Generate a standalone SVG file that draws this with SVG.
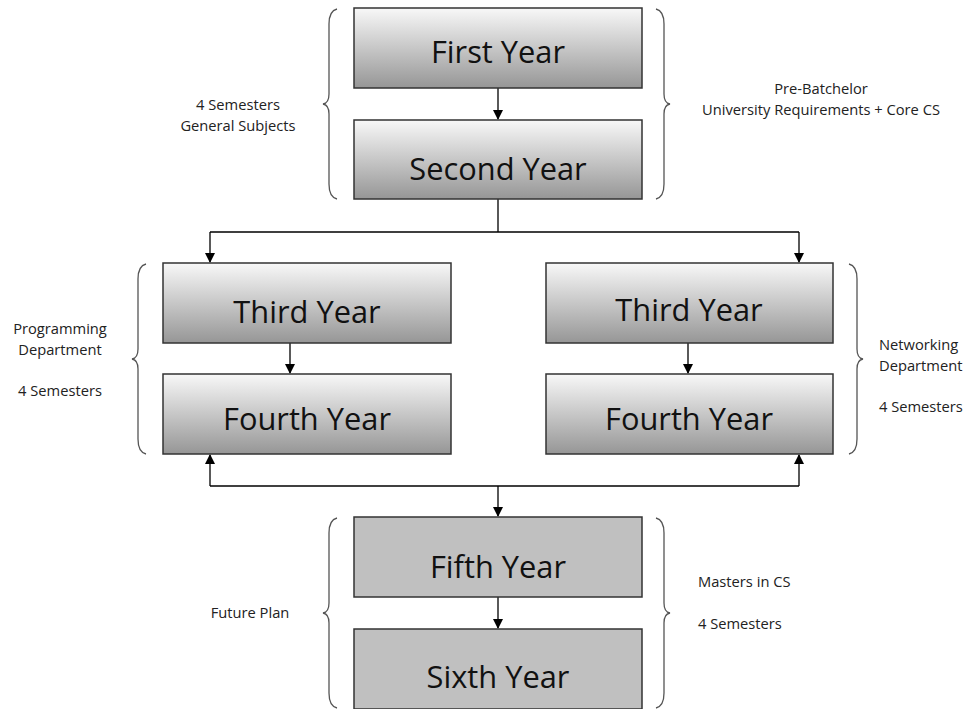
<svg xmlns="http://www.w3.org/2000/svg" width="966" height="709" viewBox="0 0 966 709">
<defs>
<linearGradient id="g" x1="0" y1="0" x2="0" y2="1">
<stop offset="0" stop-color="#f8f8f8"/>
<stop offset="1" stop-color="#969696"/>
</linearGradient>
<marker id="ah" markerWidth="10" markerHeight="10" refX="9" refY="5" orient="auto" markerUnits="userSpaceOnUse">
<path d="M0,0 L10,5 L0,10 Z" fill="#000"/>
</marker>
</defs>
<style>
.box{fill:url(#g);stroke:#333;stroke-width:1.5}
.flat{fill:#c0c0c0;stroke:#333;stroke-width:1.5}
.big{font-family:"Open Sans","Noto Sans","Liberation Sans",sans-serif;font-size:30.8px;fill:#111;text-anchor:middle}
.sm{font-family:"Open Sans","Noto Sans","Liberation Sans",sans-serif;font-size:14.7px;fill:#222}
.c{text-anchor:middle}
.br{fill:none;stroke:#555;stroke-width:1.3}
.ln{fill:none;stroke:#000;stroke-width:1.3}
</style>
<rect width="966" height="709" fill="#fff"/>
<g id="connectors">
<path class="ln" d="M498,88 V119" marker-end="url(#ah)"/>
<path class="ln" d="M498,199 V232 M210,232 H799"/>
<path class="ln" d="M210,232 V262" marker-end="url(#ah)"/>
<path class="ln" d="M799,232 V262" marker-end="url(#ah)"/>
<path class="ln" d="M290,343 V373" marker-end="url(#ah)"/>
<path class="ln" d="M688,343 V373" marker-end="url(#ah)"/>
<path class="ln" d="M210,486 H799"/>
<path class="ln" d="M210,486 V455" marker-end="url(#ah)"/>
<path class="ln" d="M799,486 V455" marker-end="url(#ah)"/>
<path class="ln" d="M498,486 V516" marker-end="url(#ah)"/>
<path class="ln" d="M498,597 V628" marker-end="url(#ah)"/>
</g>
<g id="braces">
<path class="br" d="M337,9 Q329,11 329,24 V94 Q329,103 323,104 Q329,105 329,114 V184 Q329,197 337,199"/>
<path class="br" d="M656,9 Q664,11 664,24 V94 Q664,103 670,104 Q664,105 664,114 V184 Q664,197 656,199"/>
<path class="br" d="M146,264 Q138,266 138,279 V349 Q138,358 132,359 Q138,360 138,369 V439 Q138,452 146,454"/>
<path class="br" d="M849,264 Q857,266 857,279 V349 Q857,358 863,359 Q857,360 857,369 V439 Q857,452 849,454"/>
<path class="br" d="M337,518 Q329,520 329,533 V603 Q329,612 323,613 Q329,614 329,623 V693 Q329,706 337,708"/>
<path class="br" d="M656,518 Q664,520 664,533 V603 Q664,612 670,613 Q664,614 664,623 V693 Q664,706 656,708"/>
</g>
<g id="n1"><rect class="box" x="354" y="8" width="288" height="80"/><text class="big" x="498" y="63">First Year</text></g>
<g id="n2"><rect class="box" x="354" y="120" width="288" height="79"/><text class="big" x="498" y="180">Second Year</text></g>
<g id="n3l"><rect class="box" x="163" y="263" width="288" height="80"/><text class="big" x="307" y="323">Third Year</text></g>
<g id="n4l"><rect class="box" x="163" y="374" width="288" height="80"/><text class="big" x="307" y="430">Fourth Year</text></g>
<g id="n3r"><rect class="box" x="546" y="263" width="287" height="80"/><text class="big" x="689" y="321">Third Year</text></g>
<g id="n4r"><rect class="box" x="546" y="374" width="287" height="80"/><text class="big" x="689" y="430">Fourth Year</text></g>
<g id="n5"><rect class="flat" x="354" y="517" width="288" height="80"/><text class="big" x="498" y="578">Fifth Year</text></g>
<g id="n6"><rect class="flat" x="354" y="629" width="288" height="80"/><text class="big" x="498" y="688">Sixth Year</text></g>
<g id="labels">
<text class="sm c" x="238" y="110">4 Semesters</text>
<text class="sm c" x="238" y="131">General Subjects</text>
<text class="sm c" x="821" y="94">Pre-Batchelor</text>
<text class="sm c" x="821" y="115">University Requirements + Core CS</text>
<text class="sm c" x="60" y="334">Programming</text>
<text class="sm c" x="60" y="355">Department</text>
<text class="sm c" x="60" y="396">4 Semesters</text>
<text class="sm" x="879" y="350">Networking</text>
<text class="sm" x="879" y="371">Department</text>
<text class="sm" x="879" y="412">4 Semesters</text>
<text class="sm" x="698" y="587">Masters in CS</text>
<text class="sm" x="698" y="629">4 Semesters</text>
<text class="sm c" x="250" y="618">Future Plan</text>
</g>
</svg>
